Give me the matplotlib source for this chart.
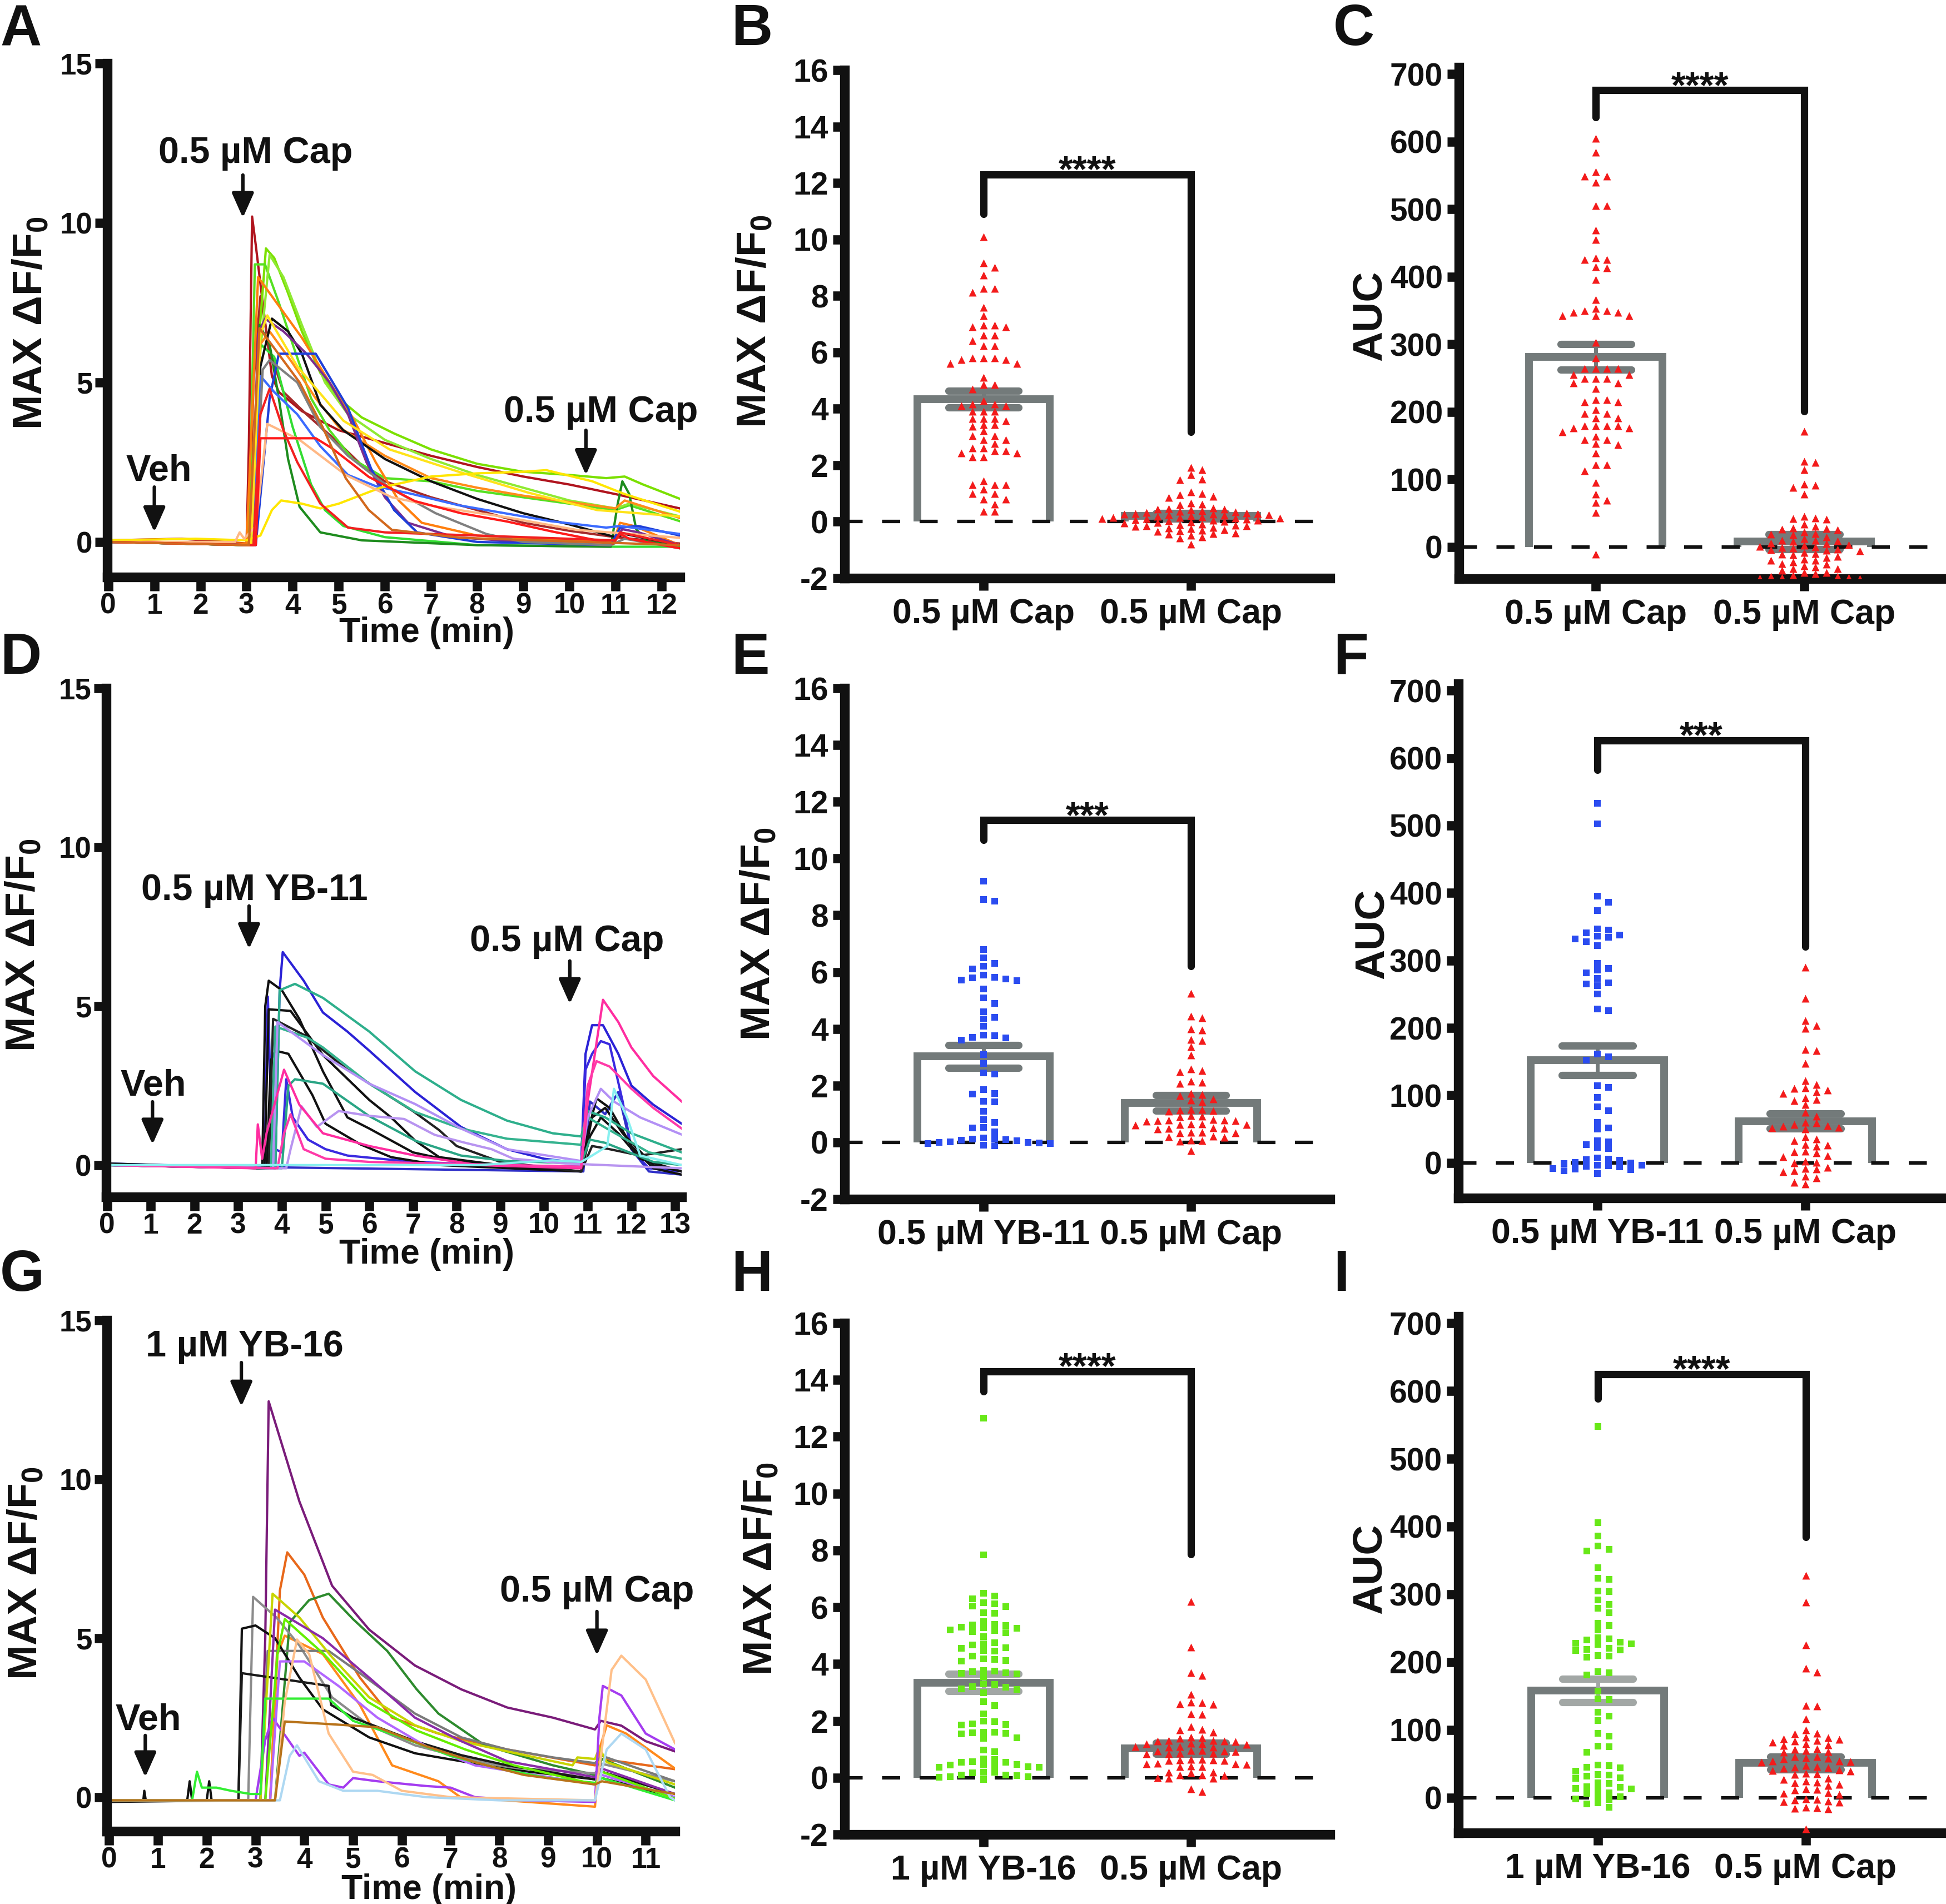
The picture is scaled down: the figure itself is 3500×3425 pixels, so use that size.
import numpy as np
import matplotlib
matplotlib.use("Agg")
import matplotlib.pyplot as plt

W, H = 3500, 3425
INK = "#111111"
BAR = "#737a7a"
CAP_LIGHT = "#a2a7a5"
RED = "#f31b1b"
BLUE = "#2b4cf0"
GREEN = "#68e818"

# ---------------- calcium traces (time in min, MAX dF/F0) ----------------
A_colors = ["#b0141e", "#a52a2a", "#7be000", "#55e022", "#8fea33", "#33dd33", "#1e8c1e",
            "#ff7f0e", "#ff8c1a", "#111111", "#7b2d8e", "#1f3fd8", "#3b6bff", "#808080",
            "#ffe31a", "#ffe600", "#ffb885", "#ff1a1a", "#f22020", "#d2691e"]
A_traces = [
    [(0, 0.05), (1.6, 0.1), (3.0, -0.05), (3.05, 3), (3.12, 10.2), (3.2, 9.3), (3.35, 7.5), (3.55, 5.2), (3.7, 4.7), (4.2, 4.1), (5.0, 3.5), (6.0, 3.1), (7.0, 2.7), (8.0, 2.35), (9.0, 2.05), (10.0, 1.8), (11.0, 1.5), (12.4, 1.05)],
    [(0, 0.0), (3.05, -0.1), (3.15, 5.0), (3.3, 7.7), (3.5, 6.0), (3.8, 4.7), (4.3, 4.0), (5.0, 3.1), (5.5, 2.4), (6.0, 1.9), (7.0, 1.4), (8.0, 1.0), (9.0, 0.6), (10.0, 0.35), (11.0, 0.15), (12.4, -0.05)],
    [(0, 0), (3.1, -0.1), (3.25, 6.0), (3.42, 9.2), (3.6, 8.9), (3.9, 7.8), (4.2, 6.6), (4.6, 5.3), (5.0, 4.5), (5.5, 3.9), (6.2, 3.4), (7.0, 2.9), (8.0, 2.45), (9.0, 2.2), (10.0, 2.1), (10.8, 2.0), (11.2, 2.05), (11.6, 1.8), (12.4, 1.35)],
    [(0, 0), (3.05, -0.1), (3.18, 8.7), (3.4, 8.7), (3.7, 7.5), (4.0, 6.2), (4.4, 4.5), (4.8, 3.5), (5.3, 2.6), (6.0, 2.0), (7.0, 1.9), (8.0, 1.6), (9.0, 1.4), (10.0, 1.2), (11.0, 1.0), (11.3, 1.15), (12.4, 0.65)],
    [(0, 0), (3.1, -0.1), (3.3, 6.0), (3.5, 9.0), (3.8, 8.3), (4.2, 6.8), (4.7, 5.0), (5.2, 4.0), (6.0, 3.2), (7.0, 2.6), (8.0, 2.1), (9.0, 1.7), (10.0, 1.3), (11.0, 1.05), (11.3, 1.2), (12.4, 0.8)],
    [(0, 0), (3.1, -0.1), (3.3, 6.2), (3.6, 5.8), (4.0, 3.6), (4.4, 1.8), (4.7, 1.0), (5.1, 0.5), (6.0, 0.15), (8.0, -0.1), (11.0, -0.15), (12.4, -0.15)],
    [(0, 0), (3.1, -0.1), (3.28, 6.8), (3.5, 6.2), (3.7, 4.5), (3.9, 2.6), (4.15, 1.1), (4.6, 0.3), (5.5, 0.05), (8, -0.1), (10.9, -0.15), (11.05, 1.2), (11.15, 1.9), (11.3, 1.5), (11.45, 0.4), (11.7, 0.0), (12.4, -0.1)],
    [(0, 0), (3.0, -0.05), (3.25, 8.3), (3.6, 7.6), (4.2, 6.4), (4.8, 5.0), (5.3, 3.9), (5.8, 2.5), (6.3, 1.3), (6.8, 0.6), (8.0, 0.2), (10.0, 0.05), (10.95, 0.0), (11.1, 0.6), (11.4, 0.5), (12.4, -0.1)],
    [(0, 0), (3.1, -0.1), (3.3, 6.2), (3.5, 6.6), (4.0, 5.6), (4.5, 4.5), (5.0, 3.6), (6.0, 2.7), (7.0, 2.0), (8.0, 1.7), (9.0, 1.45), (10.0, 1.25), (11.0, 1.05), (11.2, 1.3), (12.4, 0.75)],
    [(0, 0), (3.1, -0.1), (3.3, 5.5), (3.55, 7.0), (3.9, 6.6), (4.2, 5.9), (4.6, 4.3), (5.1, 3.5), (6.0, 2.6), (7.0, 1.9), (8.0, 1.35), (9.0, 0.9), (10.0, 0.55), (11.0, 0.15), (11.2, 0.25), (12.4, -0.1)],
    [(0, 0), (3.1, -0.1), (3.25, 6.5), (3.4, 7.0), (3.8, 6.6), (4.3, 5.9), (4.8, 5.0), (5.2, 4.0), (5.6, 2.5), (6.0, 1.4), (6.5, 0.6), (7.5, 0.15), (9.0, 0.0), (10.9, -0.1), (11.15, 0.4), (11.5, 0.3), (12.4, -0.1)],
    [(0, 0), (3.2, -0.1), (3.5, 4.5), (3.7, 5.9), (4.5, 5.9), (5.2, 4.2), (5.7, 2.3), (6.2, 1.0), (6.7, 0.3), (8.0, 0.0), (10.9, -0.1), (11.1, 0.45), (11.5, 0.5), (12.4, 0.2)],
    [(0, 0), (3.1, -0.1), (3.3, 5.2), (3.6, 4.7), (4.1, 4.0), (4.6, 3.0), (5.2, 2.1), (5.8, 1.75), (6.6, 1.5), (7.6, 1.15), (8.6, 0.9), (9.6, 0.65), (10.8, 0.45), (11.1, 0.5), (12.4, 0.25)],
    [(0, 0), (3.15, -0.1), (3.35, 5.4), (3.5, 5.7), (4.1, 5.0), (4.6, 3.6), (5.2, 2.7), (6.1, 1.7), (7.1, 0.9), (8.2, 0.25), (9, 0.0), (10.9, -0.1), (11.2, 0.1), (12.4, -0.2)],
    [(0, 0), (3.1, -0.1), (3.3, 6.5), (3.45, 7.1), (4.1, 5.5), (5.1, 3.8), (6.1, 2.9), (7.6, 2.2), (9.1, 1.55), (10.6, 1.0), (12.4, 0.8)],
    [(0, 0.05), (1.9, 0.1), (3.0, 0.05), (3.3, 0.2), (3.55, 1.0), (3.75, 1.3), (4.2, 1.2), (4.6, 1.05), (5.0, 1.2), (5.9, 1.7), (7.0, 2.05), (8.0, 2.15), (9.0, 2.2), (9.5, 2.25), (10.5, 1.9), (11.2, 1.5), (12.4, 0.95)],
    [(0, 0), (2.75, 0.0), (2.85, 0.3), (2.95, 0.1), (3.2, 0.5), (3.45, 3.7), (4.15, 3.2), (5.15, 2.1), (6.15, 1.4), (7.15, 1.1), (8.65, 0.77), (10.15, 0.38), (12.4, 0.13)],
    [(0, 0), (3.2, -0.1), (3.3, 3.25), (4.5, 3.25), (4.85, 2.94), (5.65, 2.04), (6.65, 1.28), (7.65, 0.9), (8.65, 0.64), (9.65, 0.32), (10.95, -0.05), (11.1, 0.25), (11.3, 0.1), (12.4, -0.2)],
    [(0, 0), (3.15, -0.1), (3.3, 4.0), (3.5, 4.8), (3.8, 3.5), (4.1, 2.5), (4.6, 1.2), (5.2, 0.45), (6.0, 0.3), (8.0, 0.2), (10.0, 0.1), (11.0, 0.05), (11.1, 0.3), (12.4, -0.1)],
    [(0, 0), (3.05, -0.1), (3.28, 6.7), (4.15, 5.0), (4.65, 3.6), (5.15, 2.0), (5.65, 1.0), (6.15, 0.38), (7.65, 0.13), (12.4, -0.1)],
]

D_colors = ["#2b22d6", "#3a2ae0", "#2f2fc8", "#111111", "#111111", "#111111", "#222222",
            "#2eaf8c", "#35b38f", "#2aa585", "#b390f5", "#b894f0", "#ff2da0", "#ff3aa8", "#88f0f0"]
D_traces = [
    [(0, 0.05), (3.85, -0.1), (3.95, 5.5), (4.02, 6.7), (4.5, 5.8), (4.94, 4.8), (5.5, 4.2), (6.0, 3.6), (7.05, 2.3), (8.1, 1.2), (9.15, 0.5), (10.0, 0.2), (10.85, 0.06), (10.95, 3.5), (11.1, 4.4), (11.35, 4.4), (11.7, 3.5), (12.0, 2.5), (12.5, 1.9), (13.15, 1.3)],
    [(0, 0.0), (3.6, -0.1), (3.68, 5.3), (3.75, 2.0), (3.85, 0.5), (4.0, 0.4), (4.1, 2.7), (4.25, 1.5), (4.6, 0.8), (5.0, 0.5), (5.5, 0.3), (7, 0.1), (9, 0.0), (10.85, -0.05), (10.95, 3.0), (11.1, 3.5), (11.3, 3.9), (11.5, 3.8), (11.8, 2.0), (12.0, 0.5), (12.4, -0.1), (13.15, -0.2)],
    [(0, 0), (10.9, -0.2), (11.05, 2.0), (11.4, 1.6), (11.7, 2.3), (12.0, 0.5), (12.4, -0.2), (13.15, -0.3)],
    [(0, 0.05), (3.55, -0.1), (3.62, 5.0), (3.7, 5.8), (4.0, 5.5), (4.4, 4.6), (4.94, 2.95), (5.5, 1.5), (6.0, 1.15), (7.0, 0.4), (8.0, 0.1), (10.85, -0.2), (11.0, 1.0), (11.2, 2.1), (11.5, 1.8), (12.0, 0.6), (12.5, -0.1), (13.15, -0.3)],
    [(0, 0), (3.6, -0.1), (3.7, 4.9), (4.2, 4.85), (4.94, 3.46), (6.0, 2.05), (6.5, 1.5), (7.05, 0.77), (7.6, 0.25), (9, 0.0), (10.85, -0.2), (11.05, 0.9), (11.3, 1.5), (11.7, 1.0), (12.2, 0.2), (13.15, -0.2)],
    [(0, 0), (3.65, -0.1), (3.75, 3.3), (3.85, 3.6), (4.15, 3.5), (4.7, 2.2), (5.0, 1.3), (5.8, 0.65), (6.5, 0.25), (7.6, 0.0), (10.85, -0.2), (11.1, 1.5), (11.4, 1.8), (11.8, 1.0), (12.5, 0.0), (13.15, -0.2)],
    [(0, 0), (3.7, -0.1), (3.8, 4.6), (4.5, 4.1), (5.5, 3.0), (7.0, 1.7), (7.6, 1.1), (8.0, 0.6), (9.0, 0.1), (10.85, -0.2), (11.1, 0.6), (11.5, 0.5), (12.2, 0.3), (13.15, 0.5)],
    [(0, 0), (3.85, -0.1), (3.95, 5.5), (4.3, 5.7), (4.94, 5.26), (6.0, 4.2), (7.05, 2.95), (8.1, 2.05), (9.15, 1.4), (10.2, 1.0), (10.85, 0.9), (11.0, 1.7), (11.4, 1.5), (12.0, 1.0), (13.15, 0.4)],
    [(0, 0), (3.75, -0.1), (3.85, 4.36), (4.6, 4.0), (4.94, 3.7), (6.0, 2.56), (7.05, 1.67), (8.1, 1.15), (9.15, 0.83), (10.85, 0.64), (11.0, 1.5), (11.5, 1.1), (12.4, 0.4), (13.15, 0.2)],
    [(0, 0), (4.0, -0.1), (4.15, 2.5), (4.3, 2.7), (4.94, 2.56), (6.0, 1.54), (7.05, 0.77), (8.1, 0.3), (9.15, 0.13), (10.85, 0.05), (11.05, 0.8), (11.4, 0.7), (12.5, 0.1), (13.15, 0.0)],
    [(0, 0), (3.8, -0.1), (3.9, 4.5), (4.94, 3.46), (6.0, 2.56), (7.05, 1.92), (8.1, 1.15), (9.15, 0.5), (10.85, 0.13), (11.0, 1.5), (11.3, 2.4), (11.6, 2.0), (12.2, 1.5), (13.15, 0.96)],
    [(0, 0), (4.1, -0.1), (4.2, 0.5), (4.45, 1.85), (4.8, 1.2), (5.3, 1.7), (6.0, 1.55), (6.8, 1.45), (7.5, 0.95), (8.2, 0.7), (8.8, 0.5), (9.3, 0.2), (10.5, 0.05), (13.15, -0.1)],
    [(0, 0), (3.4, -0.1), (3.45, 1.28), (3.55, 0.2), (3.65, 1.0), (4.05, 3.0), (4.4, 1.9), (4.94, 1.0), (6.0, 0.6), (7.05, 0.3), (8.5, 0.0), (10.85, -0.1), (11.0, 2.0), (11.35, 5.2), (11.7, 4.5), (12.0, 3.7), (12.5, 2.8), (13.15, 2.0)],
    [(0, 0), (3.9, -0.1), (4.05, 1.0), (4.2, 1.6), (4.5, 0.5), (5.0, 0.2), (6.0, 0.1), (10.85, -0.05), (11.0, 2.5), (11.2, 3.27), (11.5, 3.1), (12.0, 2.4), (12.5, 1.8), (13.15, 1.15)],
    [(0, 0), (5, 0.0), (8.5, 0.0), (10.2, 0.15), (10.85, 0.1), (11.1, 0.3), (11.45, 0.6), (11.6, 2.4), (11.9, 1.5), (12.2, 0.3), (13.15, 0.0)],
]

G_colors = ["#7a1c7a", "#e8681a", "#ff8a1c", "#2e8b2e", "#8c8c8c", "#7a7a7a", "#111111", "#1a1a1a",
            "#c8d400", "#8a2ba8", "#a43cf0", "#b266ff", "#33ee33", "#66ee00", "#ffc08a", "#aed8f2", "#b8731a"]
G_traces = [
    [(0, -0.1), (3.1, -0.1), (3.2, 5.0), (3.27, 12.45), (3.9, 9.3), (4.57, 6.65), (5.33, 5.27), (6.27, 4.14), (7.22, 3.39), (8.16, 2.82), (9.1, 2.5), (9.96, 2.13), (10.08, 2.4), (10.5, 2.25), (11.0, 1.76), (11.6, 1.44)],
    [(0, -0.1), (3.3, -0.1), (3.5, 6.5), (3.65, 7.7), (4.0, 7.0), (4.38, 5.65), (5.14, 3.76), (5.8, 2.5), (6.75, 2.0), (8.16, 1.5), (9.96, 1.0), (10.1, 1.2), (11.6, 0.88)],
    [(0, -0.1), (3.3, -0.1), (3.45, 4.5), (3.6, 5.08), (4.38, 4.5), (5.14, 2.9), (5.8, 1.0), (6.75, 0.5), (7.2, 0.0), (9.96, -0.3), (10.05, 1.5), (10.2, 2.26), (10.6, 2.0), (11.6, 0.9)],
    [(0, -0.1), (3.4, -0.1), (3.7, 5.5), (4.1, 6.2), (4.5, 6.4), (5.0, 5.6), (5.7, 4.6), (6.3, 3.4), (6.75, 2.63), (7.7, 1.63), (9.1, 1.0), (9.96, 0.7), (10.1, 1.2), (11.6, 0.3)],
    [(0, -0.1), (2.85, -0.1), (2.95, 6.3), (3.43, 5.65), (3.9, 4.77), (4.57, 3.14), (5.33, 2.26), (6.27, 1.63), (7.22, 1.25), (8.16, 0.94), (9.96, 0.75), (10.1, 1.05), (11.6, 0.5)],
    [(0, -0.1), (3.1, -0.1), (3.25, 4.6), (4.5, 4.6), (5.14, 3.9), (6.27, 2.63), (7.22, 1.88), (8.16, 1.5), (9.1, 1.25), (9.96, 1.07), (10.1, 1.3), (11.6, 0.5)],
    [(0, -0.1), (0.7, -0.1), (0.72, 0.2), (0.75, -0.1), (1.6, -0.1), (1.65, 0.5), (1.7, -0.1), (2.0, -0.1), (2.05, 0.5), (2.1, -0.1), (2.65, -0.1), (2.72, 5.3), (3.0, 5.4), (3.4, 5.0), (3.9, 3.76), (4.38, 2.76), (5.33, 1.88), (6.27, 1.38), (7.22, 1.13), (8.16, 0.88), (9.96, 0.56), (10.1, 0.6), (11.6, 0.0)],
    [(0, -0.15), (2.65, -0.1), (2.72, 3.9), (4.5, 3.5), (4.55, 2.9), (5.0, 2.5), (6.27, 1.76), (7.22, 1.32), (8.16, 1.0), (9.96, 0.56), (10.1, 0.8), (11.6, 0.1)],
    [(0, -0.1), (3.1, -0.1), (3.35, 6.4), (3.9, 5.65), (4.57, 4.4), (5.33, 3.14), (6.27, 2.26), (7.22, 1.76), (8.16, 1.44), (9.1, 1.13), (9.5, 1.0), (9.6, 1.25), (9.96, 1.2), (10.05, 1.55), (10.2, 1.1), (11.6, 0.4)],
    [(0, -0.1), (3.2, -0.1), (3.4, 5.9), (4.38, 5.0), (5.33, 3.76), (6.27, 2.5), (7.22, 1.76), (8.16, 1.13), (9.96, 0.63), (10.1, 0.9), (11.6, 0.1)],
    [(0, -0.1), (3.0, -0.1), (3.2, 1.8), (3.35, 2.5), (3.9, 1.3), (4.0, 1.4), (4.5, 0.4), (4.8, 0.3), (5.0, 0.6), (5.5, 0.5), (6.5, 0.35), (7.0, 0.3), (7.5, 0.0), (8.5, -0.1), (9.96, -0.15), (10.05, 2.5), (10.12, 3.5), (10.5, 3.2), (11.0, 2.0), (11.6, 1.5)],
    [(0, -0.1), (3.3, -0.1), (3.5, 4.27), (4.0, 4.27), (4.7, 3.5), (5.5, 2.5), (6.5, 1.6), (7.5, 1.0), (9.96, 0.4), (10.1, 0.7), (11.6, 0.0)],
    [(0, -0.1), (1.7, -0.1), (1.8, 0.8), (1.9, 0.3), (2.2, 0.3), (2.5, 0.2), (2.9, 0.1), (3.1, 0.1), (3.2, 3.1), (4.5, 3.1), (5.0, 2.4), (6.0, 1.88), (7.0, 1.3), (8.0, 0.9), (9.0, 0.6), (9.96, 0.45), (10.1, 0.6), (11.6, -0.1)],
    [(0, -0.1), (3.2, -0.1), (3.45, 4.5), (3.6, 5.6), (4.4, 4.5), (5.3, 3.0), (6.3, 2.1), (7.3, 1.5), (8.3, 1.0), (9.96, 0.4), (10.1, 0.8), (11.6, -0.05)],
    [(0, -0.1), (3.4, -0.1), (3.6, 3.0), (3.85, 4.96), (4.1, 4.5), (4.5, 2.0), (5.0, 0.8), (5.4, 0.7), (6.0, 0.2), (7.0, 0.0), (9.96, -0.1), (10.1, 1.5), (10.3, 4.0), (10.5, 4.45), (11.0, 3.7), (11.6, 1.7)],
    [(0, -0.1), (3.5, -0.1), (3.7, 1.3), (3.85, 1.63), (4.3, 0.5), (4.8, 0.2), (5.5, 0.2), (6.5, 0.0), (8.0, -0.1), (9.96, -0.1), (10.2, 1.5), (10.5, 2.0), (11.0, 1.5), (11.5, 0.0), (11.6, -0.1)],
    [(0, -0.1), (3.4, -0.1), (3.6, 2.38), (4.5, 2.3), (5.5, 2.2), (6.5, 1.6), (7.5, 1.1), (8.5, 0.7), (9.96, 0.4), (10.1, 0.5), (11.6, 0.1)],
]

# ---------------- per-cell values ----------------
B_cap1 = [10.1, 9.17, 9.0, 8.74, 8.27, 8.27, 8.13, 7.6, 7.3, 6.97, 6.97, 6.9, 6.9, 6.6, 6.6, 6.4, 6.24, 6.24,
          5.8, 5.8, 5.8, 5.73, 5.73, 5.6, 5.6, 5.1, 4.86, 4.86, 4.7, 4.28, 4.17, 4.17, 4.1, 4.1, 3.9, 3.9, 3.9,
          3.66, 3.66, 3.66, 3.58, 3.44, 3.44, 3.37, 3.22, 3.05, 3.05, 2.9, 2.9, 2.76, 2.6, 2.6, 2.5, 2.5, 2.44,
          2.44, 2.3, 2.3, 1.45, 1.3, 1.3, 1.3, 1.16, 1.0, 1.0, 0.8, 0.8, 0.62, 0.36, 0.36]
B_cap2 = [1.92, 1.84, 1.67, 1.5, 1.48, 1.05, 1.0, 0.95, 0.9, 0.85, 0.65, 0.62, 0.6, 0.48, 0.46, 0.45, 0.44,
          0.42, 0.38, 0.36, 0.35, 0.33, 0.3, 0.29, 0.28, 0.27, 0.26, 0.25, 0.24, 0.22, 0.2, 0.18, 0.16, 0.15,
          0.14, 0.13, 0.12, 0.11, 0.1, 0.08, 0.06, 0.05, 0.04, 0.02, 0.0, -0.02, -0.04, -0.05, -0.08, -0.1,
          -0.12, -0.14, -0.15, -0.17, -0.2, -0.22, -0.25, -0.28, -0.3, -0.32, -0.35, -0.4, -0.42, -0.45,
          -0.48, -0.55, -0.58, -0.8]
C_cap1 = [605, 584, 555, 549, 549, 540, 505, 505, 469, 455, 428, 425, 425, 415, 413, 396, 366, 353, 350, 350,
          347, 347, 342, 342, 342, 303, 280, 264, 264, 264, 264, 255, 255, 249, 249, 249, 243, 243, 234, 218,
          218, 215, 215, 203, 197, 197, 191, 191, 179, 179, 179, 179, 176, 176, 170, 164, 159, 159, 153, 151,
          139, 122, 122, 113, 95, 78, 69, 66, 51, -11]
C_cap2 = [171, 127, 125, 114, 93, 91, 88, 78, 45, 43, 42, 41, 34, 30, 28, 27, 26, 25, 22, 20, 19, 18, 15, 12,
          10, 10, 9, 8, 6, 5, 3, 2, 1, 0, -1, -2, -3, -4, -5, -6, -8, -10, -11, -12, -14, -16, -18, -20, -20,
          -22, -25, -26, -28, -30, -32, -32, -35, -38, -38, -40, -42, -44, -44, -45, -45, -46, -47]
E_yb11 = [9.2, 8.55, 8.5, 6.8, 6.5, 6.3, 6.2, 6.1, 5.9, 5.82, 5.8, 5.75, 5.72, 5.7, 5.4, 5.1, 4.9, 4.6, 4.4,
          4.35, 4.1, 3.78, 3.76, 3.7, 3.68, 3.6, 3.1, 2.77, 2.44, 2.4, 1.86, 1.72, 1.7, 1.45, 1.43, 1.1, 0.8,
          0.7, 0.52, 0.5, 0.37, 0.16, 0.13, 0.12, 0.1, 0.08, 0.05, 0.02, 0.0, 0.0, -0.02, -0.04, -0.05, -0.1, -0.12]
E_cap2 = [5.24, 4.45, 4.38, 4.0, 3.95, 3.62, 3.58, 3.37, 3.08, 2.58, 2.52, 2.48, 2.15, 2.12, 2.07, 1.72, 1.68,
          1.64, 1.52, 1.48, 1.43, 1.16, 1.15, 1.14, 1.12, 1.1, 0.94, 0.92, 0.9, 0.8, 0.79, 0.78, 0.77, 0.76,
          0.75, 0.65, 0.64, 0.63, 0.62, 0.6, 0.5, 0.49, 0.48, 0.47, 0.36, 0.35, 0.34, 0.33, 0.22, 0.2, 0.18,
          0.07, 0.06, 0.04, -0.3]
F_yb11 = [533, 502, 395, 386, 374, 347, 345, 341, 338, 336, 334, 332, 328, 322, 296, 288, 286, 282, 273, 267,
          265, 263, 250, 228, 226, 161, 157, 152, 114, 112, 97, 83, 77, 60, 52, 50, 33, 31, 27, 23, 21, 7, 6,
          5, 4, 1, 0, -1, -3, -3, -4, -5, -6, -8, -9, -10, -12, -16]
F_cap2 = [290, 244, 211, 203, 199, 168, 166, 147, 122, 116, 111, 110, 108, 105, 103, 96, 94, 92, 86, 75, 69,
          60, 59, 57, 55, 54, 53, 52, 50, 39, 35, 33, 27, 26, 25, 17, 16, 15, 11, 9, 2, 1, 0, -7, -8, -9, -12,
          -13, -20, -22, -29, -31]
H_yb16 = [12.65, 7.85, 6.5, 6.4, 6.3, 6.15, 6.12, 6.05, 6.02, 5.8, 5.78, 5.5, 5.4, 5.38, 5.35, 5.3, 5.28, 5.25,
          5.2, 5.18, 5.15, 5.1, 4.96, 4.75, 4.72, 4.68, 4.57, 4.55, 4.47, 4.45, 4.29, 4.19, 4.17, 4.12, 4.1,
          3.78, 3.76, 3.74, 3.7, 3.68, 3.66, 3.55, 3.3, 3.28, 3.2, 3.18, 3.13, 3.11, 2.99, 2.68, 2.54, 2.24,
          2.0, 1.98, 1.9, 1.88, 1.85, 1.6, 1.6, 1.58, 1.57, 1.55, 1.4, 1.38, 0.97, 0.92, 0.67, 0.65, 0.56,
          0.55, 0.54, 0.46, 0.45, 0.44, 0.43, 0.38, 0.37, 0.36, 0.2, 0.19, 0.18, 0.1, 0.09, 0.08, 0.04, 0.03,
          0.02, -0.07]
H_cap2 = [6.2, 4.6, 3.7, 3.6, 2.94, 2.66, 2.64, 2.6, 2.58, 2.24, 2.22, 1.8, 1.7, 1.68, 1.6, 1.43, 1.4, 1.38,
          1.3, 1.3, 1.29, 1.28, 1.27, 1.2, 1.19, 1.18, 1.17, 1.1, 1.09, 1.08, 1.07, 0.96, 0.95, 0.94, 0.93,
          0.92, 0.86, 0.85, 0.84, 0.83, 0.65, 0.64, 0.63, 0.62, 0.61, 0.6, 0.5, 0.49, 0.48, 0.47, 0.4, 0.39,
          0.38, 0.2, 0.19, 0.18, 0.1, 0.09, 0.08, -0.01, -0.02, -0.03, -0.4, -0.5]
I_yb16 = [548, 406, 386, 371, 366, 364, 339, 324, 322, 305, 304, 292, 285, 279, 273, 257, 254, 247, 236, 234,
          233, 229, 228, 227, 226, 220, 219, 218, 217, 210, 209, 207, 186, 184, 181, 157, 146, 145, 126, 120,
          114, 95, 91, 76, 75, 67, 48, 47, 45, 44, 39, 34, 33, 32, 29, 28, 22, 21, 16, 15, 14, 13, 12, 7, 6,
          2, 1, -2, -3, -8, -9, -14]
I_cap2 = [328, 288, 225, 191, 185, 136, 135, 116, 100, 95, 94, 89, 88, 87, 86, 84, 83, 82, 79, 78, 77, 72, 71,
          69, 68, 67, 60, 60, 59, 58, 57, 54, 54, 53, 52, 47, 46, 45, 44, 43, 41, 40, 39, 36, 35, 34, 28, 27,
          24, 23, 22, 19, 18, 13, 12, 11, 7, 6, 5, -2, -3, -4, -5, -6, -7, -14, -15, -16, -17, -46]

# group means and SEM as drawn
B_mean, B_sem = [4.34, 0.2], [0.3, 0.1]
C_mean, C_sem = [281, 8], [19, 11]
E_mean, E_sem = [3.03, 1.39], [0.4, 0.28]
F_mean, F_sem = [152, 62], [22, 11]
H_mean, H_sem = [3.35, 1.03], [0.31, 0.2]
I_mean, I_sem = [158, 51], [17, 9.5]

# significance brackets: left end, top, right end
B_sig, C_sig = (10.9, 12.3, 3.17), (636, 676, 201)
E_sig, F_sig = (10.65, 11.35, 6.2), (582, 626, 320)
H_sig, I_sig = (13.6, 14.3, 7.87), (589, 625, 384)

cats_cap = ["0.5 µM Cap", "0.5 µM Cap"]
cats_yb11 = ["0.5 µM YB-11", "0.5 µM Cap"]
cats_yb16 = ["1 µM YB-16", "0.5 µM Cap"]

plt.rcParams["font.family"] = ["Liberation Sans", "DejaVu Sans"]
plt.rcParams["font.weight"] = "bold"
plt.rcParams["mathtext.fontset"] = "custom"
plt.rcParams["mathtext.rm"] = "Liberation Sans:bold"
plt.rcParams["mathtext.it"] = "Liberation Sans:bold"
plt.rcParams["mathtext.bf"] = "Liberation Sans:bold"
plt.rcParams["axes.unicode_minus"] = False
plt.rcParams["text.color"] = INK
plt.rcParams["xtick.color"] = INK
plt.rcParams["ytick.color"] = INK

fig = plt.figure(figsize=(W / 100, H / 100), dpi=100)


def px_axes(l, t, r, b):
    return fig.add_axes([l / W, 1 - b / H, (r - l) / W, (b - t) / H])


def ftxt(px, py, s, **kw):
    fig.text(px / W, 1 - py / H, s, **kw)


def base_style(ax):
    for s in ("top", "right"):
        ax.spines[s].set_visible(False)
    for s in ("left", "bottom"):
        ax.spines[s].set_linewidth(12.5)
        ax.spines[s].set_capstyle("projecting")
        ax.spines[s].set_color(INK)
    ax.patch.set_alpha(0)


def trace_panel(box, xlim, ylim, xticks, traces, colors, notes):
    ax = px_axes(*box)
    base_style(ax)
    for pts, c in zip(traces, colors):
        t, v = zip(*pts)
        ax.plot(t, v, color=c, lw=3.0, solid_joinstyle="round")
    ax.set_xlim(xlim)
    ax.set_ylim(ylim)
    ax.set_xticks(xticks)
    ax.set_yticks([0, 5, 10, 15])
    ax.tick_params(axis="x", length=18, width=12, pad=2, labelsize=37)
    ax.tick_params(axis="y", length=16, width=12, pad=3, labelsize=38)
    for text, tx, ty, arrow_x, y0, y1 in notes:
        ax.text(tx, ty, text, ha="center", va="baseline", fontsize=48, clip_on=False)
        ax.annotate("", xy=(arrow_x, y1), xytext=(arrow_x, y0),
                    arrowprops=dict(arrowstyle="-|>,head_length=0.45,head_width=0.2", lw=4.5,
                                    color=INK, mutation_scale=60, shrinkA=0, shrinkB=0))
    return ax


def swarm_x(ax, vals, xc, step=10, min_dx=20, min_dy=11):
    p0 = ax.transData.transform((0, 0))
    p1 = ax.transData.transform((1, 1))
    sx, sy = p1 - p0
    placed = []
    out = np.zeros(len(vals))
    cands = [0] + [s * j for j in range(1, 100) for s in (1, -1)]
    for i in np.argsort(vals)[::-1]:
        py = vals[i] * sy
        for c in cands:
            px = c * step
            if all(abs(px - qx) >= min_dx or abs(py - qy) >= min_dy for qx, qy in placed):
                break
        placed.append((px, py))
        out[i] = xc + px / sx
    return out


def dot_panel(box, xlim, ylim, yticks, groups, markers, colors, means, sems, cap_colors, cats, sig, stars):
    ax = px_axes(*box)
    base_style(ax)
    ax.set_xlim(xlim)
    ax.set_ylim(ylim)
    ax.set_yticks(yticks)
    ax.set_xticks([0, 1])
    ax.set_xticklabels(cats, fontsize=45)
    ax.tick_params(axis="x", length=16, width=12, pad=9)
    ax.tick_params(axis="y", length=15, width=12, pad=6, labelsize=41)
    bw, cw = 0.64, 0.34
    for i, (m, e, cc) in enumerate(zip(means, sems, cap_colors)):
        ax.plot([i - bw / 2, i - bw / 2, i + bw / 2, i + bw / 2], [0, m, m, 0], color=BAR, lw=10,
                solid_joinstyle="miter", solid_capstyle="butt", zorder=2)
        ax.plot([i, i], [m - e, m + e], color=cc, lw=5, zorder=2.5)
        for yy in (m - e, m + e):
            ax.plot([i - cw / 2, i + cw / 2], [yy, yy], color=cc, lw=9.5, solid_capstyle="round", zorder=2.5)
    zero = ax.axhline(0, color=INK, lw=4.5, zorder=3)
    zero.set_dashes((5.2, 5.6))
    for i, (vals, mk, c) in enumerate(zip(groups, markers, colors)):
        vals = np.asarray(vals, float)
        size = 100 if mk == "^" else 80
        ax.scatter(swarm_x(ax, vals, i), vals, marker=mk, s=size, color=c, linewidths=0, zorder=4)
    yl, yt, yr = sig
    ax.plot([0, 0, 1, 1], [yl, yt, yt, yr], color=INK, lw=9.5, solid_capstyle="round",
            solid_joinstyle="miter", zorder=5, clip_on=False)
    ax.annotate(stars, xy=(0.5, yt), xytext=(0, -9), textcoords="offset points",
                ha="center", va="baseline", fontsize=48)
    return ax


# left column: traces
trace_panel((193, 114, 1223, 1038), (-0.02, 12.4), (-1.1, 15), range(0, 13), A_traces, A_colors,
            [("0.5 µM Cap", 3.2, 11.88, 2.92, 11.5, 10.16),
             ("Veh", 1.1, 1.92, 1.0, 1.72, 0.31),
             ("0.5 µM Cap", 10.68, 3.76, 10.36, 3.5, 2.1)])
trace_panel((191, 1238, 1226, 2153), (-0.02, 13.15), (-1.0, 15), range(0, 14), D_traces, D_colors,
            [("0.5 µM YB-11", 3.38, 8.34, 3.25, 8.15, 6.8),
             ("0.5 µM Cap", 10.53, 6.73, 10.59, 6.42, 5.07),
             ("Veh", 1.06, 2.19, 1.04, 1.99, 0.65)])
trace_panel((192, 2375, 1214, 3294), (-0.05, 11.6), (-1.07, 15), range(0, 12), G_traces, G_colors,
            [("1 µM YB-16", 2.77, 13.86, 2.71, 13.67, 12.29),
             ("0.5 µM Cap", 10.0, 6.15, 10.0, 5.84, 4.46),
             ("Veh", 0.8, 2.13, 0.74, 1.94, 0.63)])

# middle column: peak responses
dot_panel((1519, 126, 2392, 1040), (-0.67, 1.67), (-2, 16), range(-2, 17, 2), [B_cap1, B_cap2],
          ["^", "^"], [RED, RED], B_mean, B_sem, [BAR, BAR], cats_cap, B_sig, "****")
dot_panel((1519, 1238, 2392, 2157), (-0.67, 1.67), (-1.95, 16), range(-2, 17, 2), [E_yb11, E_cap2],
          ["s", "^"], [BLUE, RED], E_mean, E_sem, [BAR, BAR], cats_yb11, E_sig, "***")
dot_panel((1519, 2380, 2392, 3300), (-0.67, 1.67), (-2, 16), range(-2, 17, 2), [H_yb16, H_cap2],
          ["s", "^"], [GREEN, RED], H_mean, H_sem, [CAP_LIGHT, BAR], cats_yb16, H_sig, "****")

# right column: AUC
dot_panel((2624, 121, 3500, 1041), (-0.657, 1.68), (-47, 710), range(0, 701, 100), [C_cap1, C_cap2],
          ["^", "^"], [RED, RED], C_mean, C_sem, [BAR, BAR], cats_cap, C_sig, "****")
dot_panel((2623, 1230, 3500, 2155), (-0.668, 1.676), (-52, 710), range(0, 701, 100), [F_yb11, F_cap2],
          ["s", "^"], [BLUE, RED], F_mean, F_sem, [BAR, BAR], cats_yb11, F_sig, "***")
dot_panel((2623, 2368, 3500, 3297), (-0.67, 1.675), (-52, 710), range(0, 701, 100), [I_yb16, I_cap2],
          ["s", "^"], [GREEN, RED], I_mean, I_sem, [CAP_LIGHT, BAR], cats_yb16, I_sig, "****")

# axis titles
ylab = "MAX ΔF/F$_0$"
for px, py, s in [(75, 581, ylab), (1377, 578, ylab), (2484, 568, "AUC"),
                  (62, 1700, ylab), (1384, 1680, ylab), (2488, 1680, "AUC"),
                  (66, 2830, ylab), (1388, 2822, ylab), (2484, 2822, "AUC")]:
    ftxt(px, py, s, rotation=90, rotation_mode="anchor", ha="center", va="baseline", fontsize=54)

for px, py in [(767, 1155), (767, 2273), (771, 3416)]:
    ftxt(px, py, "Time (min)", ha="center", va="baseline", fontsize=45)

# panel letters
for px, py, s in [(0, 81, "A"), (1315, 81, "B"), (2398, 81, "C"),
                  (0, 1212, "D"), (1315, 1212, "E"), (2398, 1212, "F"),
                  (0, 2322, "G"), (1315, 2322, "H"), (2398, 2322, "I")]:
    ftxt(px, py, s, ha="left", va="baseline", fontsize=74)

fig.savefig("out.png", dpi=100)
